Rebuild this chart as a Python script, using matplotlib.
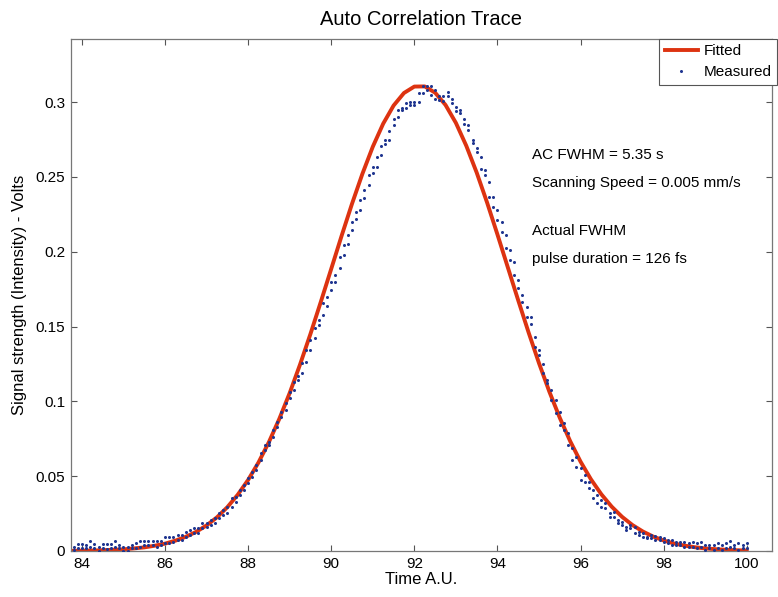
import numpy as np
import matplotlib
matplotlib.use("Agg")
import matplotlib.pyplot as plt

plt.rcParams['font.family'] = ['Liberation Sans', 'DejaVu Sans']

# fitted curve, sampled every 0.25 time units
fit_time = np.arange(83.75, 100.01, 0.25)
fit_signal = [0.0001,
              0.0002, 0.0003, 0.0005, 0.0008, 0.0011, 0.0017, 0.0024, 0.0035,
              0.0049, 0.0069, 0.0095, 0.0128, 0.0171, 0.0225, 0.0293, 0.0376,
              0.0475, 0.0592, 0.0728, 0.0883, 0.1056, 0.1247, 0.1451, 0.1666,
              0.1886, 0.2107, 0.2321, 0.2521, 0.2702, 0.2856, 0.2977, 0.3061,
              0.3104, 0.3105, 0.3063, 0.2981, 0.2861, 0.2708, 0.2529, 0.2329,
              0.2115, 0.1895, 0.1675, 0.1460, 0.1255, 0.1064, 0.0890, 0.0734,
              0.0597, 0.0479, 0.0379, 0.0296, 0.0228, 0.0173, 0.0130, 0.0096,
              0.0070, 0.0050, 0.0036, 0.0025, 0.0017, 0.0012, 0.0008, 0.0005,
              0.0003]

# measured samples: scan grid of 0.1, two readings per step
meas_time = np.round(np.arange(83.8, 100.05, 0.1), 1)
meas_lo = [0.0007, 0.0018, 0.0020, 0.0018, 0.0029, 0.0020, 0.0002, 0.0020, 0.0010, 0.0020,
           0.0029, 0.0020, 0.0002, 0.0002, 0.0018, 0.0020, 0.0029, 0.0040, 0.0040, 0.0040,
           0.0029, 0.0040, 0.0051, 0.0055, 0.0062, 0.0073, 0.0076, 0.0096, 0.0107, 0.0118,
           0.0118, 0.0151, 0.0162, 0.0174, 0.0189, 0.0218, 0.0240, 0.0252, 0.0296, 0.0329,
           0.0375, 0.0407, 0.0452, 0.0496, 0.0540, 0.0608, 0.0675, 0.0708, 0.0764, 0.0830,
           0.0897, 0.0942, 0.1020, 0.1075, 0.1142, 0.1187, 0.1265, 0.1343, 0.1421, 0.1510,
           0.1576, 0.1640, 0.1743, 0.1799, 0.1888, 0.1977, 0.2055, 0.2144, 0.2222, 0.2278,
           0.2356, 0.2445, 0.2523, 0.2567, 0.2645, 0.2719, 0.2746, 0.2850, 0.2901, 0.2946,
           0.2964, 0.2979, 0.2984, 0.3001, 0.3062, 0.3084, 0.3046, 0.3024, 0.3017, 0.3008,
           0.3039, 0.2991, 0.2941, 0.2924, 0.2852, 0.2813, 0.2730, 0.2667, 0.2550, 0.2512,
           0.2367, 0.2300, 0.2211, 0.2133, 0.2022, 0.1944, 0.1844, 0.1755, 0.1665, 0.1565,
           0.1520, 0.1365, 0.1310, 0.1190, 0.1120, 0.1009, 0.0920, 0.0842, 0.0808, 0.0708,
           0.0608, 0.0563, 0.0474, 0.0463, 0.0419, 0.0352, 0.0318, 0.0296, 0.0285, 0.0229,
           0.0229, 0.0185, 0.0174, 0.0140, 0.0152, 0.0118, 0.0107, 0.0096, 0.0085, 0.0085,
           0.0073, 0.0073, 0.0062, 0.0051, 0.0040, 0.0040, 0.0040, 0.0029, 0.0029, 0.0029,
           0.0018, 0.0029, 0.0007, 0.0018, 0.0007, 0.0018, 0.0007, 0.0018, 0.0029, 0.0018,
           0.0007, 0.0018, 0.0018]
meas_hi = [0.0029, 0.0045, 0.0045, 0.0043, 0.0069, 0.0045, 0.0029, 0.0045, 0.0045, 0.0045,
           0.0069, 0.0043, 0.0029, 0.0029, 0.0040, 0.0051, 0.0069, 0.0069, 0.0069, 0.0069,
           0.0069, 0.0069, 0.0091, 0.0091, 0.0091, 0.0107, 0.0107, 0.0129, 0.0140, 0.0151,
           0.0151, 0.0189, 0.0189, 0.0207, 0.0218, 0.0252, 0.0274, 0.0296, 0.0352, 0.0363,
           0.0410, 0.0441, 0.0486, 0.0530, 0.0575, 0.0653, 0.0708, 0.0730, 0.0808, 0.0864,
           0.0930, 0.0986, 0.1064, 0.1131, 0.1170, 0.1254, 0.1343, 0.1410, 0.1488, 0.1543,
           0.1655, 0.1700, 0.1799, 0.1844, 0.1966, 0.2044, 0.2111, 0.2200, 0.2267, 0.2345,
           0.2412, 0.2512, 0.2567, 0.2634, 0.2705, 0.2745, 0.2806, 0.2886, 0.2946, 0.2964,
           0.2991, 0.3001, 0.3001, 0.3062, 0.3106, 0.3106, 0.3106, 0.3084, 0.3039, 0.3039,
           0.3068, 0.3024, 0.2968, 0.2946, 0.2884, 0.2846, 0.2746, 0.2696, 0.2630, 0.2545,
           0.2467, 0.2367, 0.2278, 0.2200, 0.2110, 0.2011, 0.1933, 0.1810, 0.1710, 0.1632,
           0.1565, 0.1432, 0.1343, 0.1250, 0.1142, 0.1075, 0.1009, 0.0930, 0.0853, 0.0786,
           0.0686, 0.0630, 0.0552, 0.0508, 0.0463, 0.0407, 0.0374, 0.0341, 0.0318, 0.0252,
           0.0263, 0.0207, 0.0196, 0.0162, 0.0174, 0.0162, 0.0129, 0.0118, 0.0096, 0.0110,
           0.0100, 0.0096, 0.0085, 0.0073, 0.0073, 0.0062, 0.0062, 0.0062, 0.0051, 0.0062,
           0.0051, 0.0062, 0.0040, 0.0040, 0.0040, 0.0051, 0.0040, 0.0051, 0.0069, 0.0040,
           0.0051, 0.0040, 0.0051]

x_ticks = [84, 86, 88, 90, 92, 94, 96, 98, 100]
y_ticks = [0, 0.05, 0.1, 0.15, 0.2, 0.25, 0.3]
y_tick_labels = ["0", "0.05", "0.1", "0.15", "0.2", "0.25", "0.3"]

notes = ["AC FWHM = 5.35 s", "Scanning Speed = 0.005 mm/s",
         "Actual FWHM", "pulse duration = 126 fs"]
notes_y = [0.2623, 0.2434, 0.2111, 0.1922]

fig = plt.figure(figsize=(7.78, 5.97), dpi=100)
ax = fig.add_axes([0.0909, 0.0771, 0.9010, 0.8571])

ax.plot(fit_time, fit_signal, color='#dd3311', linewidth=2.8, label="Fitted", zorder=2)
meas_t2 = np.concatenate([meas_time, meas_time])
meas_s2 = np.concatenate([meas_lo, meas_hi])
ax.plot(meas_t2, meas_s2, linestyle='none', marker='o', markersize=2.2,
        markeredgewidth=0, color='#1f3590', label="Measured", zorder=3)

for txt, yy in zip(notes, notes_y):
    ax.text(94.83, yy, txt, fontsize=11, va='baseline', ha='left')

ax.set_xlim(83.73, 100.6)
ax.set_ylim(0, 0.342)
ax.set_xticks(x_ticks)
ax.set_yticks(y_ticks)
ax.set_yticklabels(y_tick_labels)
ax.tick_params(direction='in', length=4.5, width=0.8, color='#555555',
               top=True, right=True, labelsize=11, pad=4)
for sp in ax.spines.values():
    sp.set_color('#777777')
    sp.set_linewidth(0.9)

ax.set_title("Auto Correlation Trace", fontsize=14.5, pad=10)
ax.set_xlabel("Time A.U.", fontsize=12, labelpad=1)
ax.set_ylabel("Signal strength (Intensity) - Volts", fontsize=12, labelpad=6)

leg = ax.legend(loc='upper right', bbox_to_anchor=(777 / 778, 1 - 39 / 597),
                bbox_transform=fig.transFigure, fontsize=11, fancybox=False,
                framealpha=1, edgecolor='#555555', borderaxespad=0,
                handlelength=2.2, handletextpad=0.35, borderpad=0.35,
                labelspacing=0.45, markerscale=1.0)
leg.get_frame().set_linewidth(0.8)

fig.savefig("out.png", dpi=100)
